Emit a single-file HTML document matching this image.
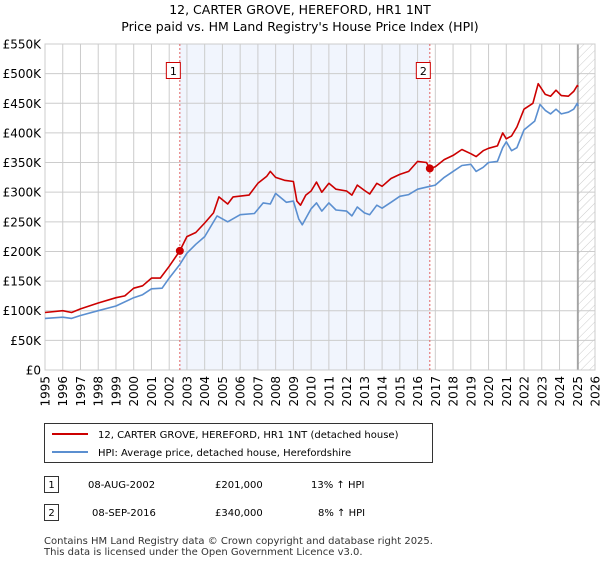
<!DOCTYPE html>
<html><head><meta charset="utf-8"><style>
body{margin:0;background:#fff;font-family:"Liberation Sans","DejaVu Sans",sans-serif;}
svg text{font-family:"DejaVu Sans","Liberation Sans",sans-serif;}
</style></head><body>
<svg id="c" width="600" height="560" xmlns="http://www.w3.org/2000/svg">
<defs><pattern id="hatch" width="6" height="6" patternUnits="userSpaceOnUse" patternTransform="rotate(45)"><line x1="0" y1="0" x2="0" y2="6" stroke="#ccc" stroke-width="1"/></pattern></defs>
<text x="300" y="14" text-anchor="middle" font-size="12.5" fill="#000">12, CARTER GROVE, HEREFORD, HR1 1NT</text>
<text x="300" y="31" text-anchor="middle" font-size="12.5" fill="#000">Price paid vs. HM Land Registry's House Price Index (HPI)</text>
<g id="plot"></g>
<g>
<rect x="44.5" y="423.5" width="388" height="39" fill="#fff" stroke="#333"/>
<line x1="52" y1="434" x2="88" y2="434" stroke="#cc0000" stroke-width="2"/>
<text x="98" y="438" font-size="10">12, CARTER GROVE, HEREFORD, HR1 1NT (detached house)</text>
<line x1="52" y1="452" x2="88" y2="452" stroke="#5b8fd0" stroke-width="2"/>
<text x="98" y="456" font-size="10">HPI: Average price, detached house, Herefordshire</text>
</g>
<g font-size="10">
<rect x="44.5" y="476.5" width="14" height="16" fill="#fff" stroke="#333"/><text x="51.5" y="488" text-anchor="middle">1</text>
<text x="88" y="488">08-AUG-2002</text><text x="215" y="488">£201,000</text><text x="311" y="488">13% ↑ HPI</text>
<rect x="44.5" y="504.5" width="14" height="16" fill="#fff" stroke="#333"/><text x="51.5" y="516" text-anchor="middle">2</text>
<text x="92" y="516">08-SEP-2016</text><text x="215" y="516">£340,000</text><text x="318" y="516">8% ↑ HPI</text>
</g>
<text x="44" y="544" font-size="10" fill="#333">Contains HM Land Registry data © Crown copyright and database right 2025.</text>
<text x="44" y="555" font-size="10" fill="#333">This data is licensed under the Open Government Licence v3.0.</text>
</svg>
<script>
const hpiYears=[1995,1996,1996.5,1997,1998,1999,2000,2000.5,2001,2001.6,2002,2002.6,2003,2003.5,2004,2004.7,2005.3,2006,2006.8,2007.3,2007.7,2008,2008.6,2009,2009.3,2009.5,2010,2010.3,2010.6,2011,2011.4,2012,2012.3,2012.6,2013,2013.3,2013.7,2014,2014.5,2015,2015.5,2016,2016.7,2017,2017.5,2018,2018.5,2019,2019.3,2019.7,2020,2020.5,2020.8,2021,2021.3,2021.6,2022,2022.6,2022.9,2023.2,2023.5,2023.8,2024.1,2024.5,2024.8,2025,2025.05];
const hpiValues=[87,89,87,92,100,108,122,127,137,138,155,178,197,212,225,260,250,262,264,282,280,298,283,285,255,245,272,282,268,282,270,268,260,275,265,262,278,273,283,293,296,305,310,312,325,335,345,347,335,342,350,352,375,385,370,375,405,420,448,438,432,440,432,435,440,450,445];
const priceYears=[1995,1996,1996.5,1997,1998,1999,1999.5,2000,2000.5,2001,2001.5,2002,2002.6,2003,2003.5,2004,2004.5,2004.8,2005.3,2005.6,2006.5,2007,2007.5,2007.7,2008,2008.5,2009,2009.2,2009.4,2009.7,2010,2010.3,2010.6,2011,2011.4,2012,2012.3,2012.6,2013,2013.3,2013.7,2014,2014.5,2015,2015.5,2016,2016.5,2016.69,2017,2017.5,2018,2018.5,2019,2019.3,2019.7,2020,2020.5,2020.8,2021,2021.3,2021.6,2022,2022.5,2022.8,2023.2,2023.5,2023.8,2024.1,2024.5,2024.8,2025,2025.05];
const priceValues=[97,100,97,103,113,122,125,138,142,155,155,175,201,225,232,248,265,292,280,292,295,315,327,335,325,320,318,285,278,295,302,317,300,315,305,302,295,312,303,297,315,310,323,330,335,352,350,340,343,355,362,372,365,360,370,374,378,400,390,395,410,440,450,483,465,462,472,463,462,470,480,478];
const saleYears=[2002.6,2016.69];
const saleValues=[201,340];
const saleLabels=["1","2"];
const yTicks=[0,50,100,150,200,250,300,350,400,450,500,550];
const yTickLabels=["£0","£50K","£100K","£150K","£200K","£250K","£300K","£350K","£400K","£450K","£500K","£550K"];
const xTicks=[1995,1996,1997,1998,1999,2000,2001,2002,2003,2004,2005,2006,2007,2008,2009,2010,2011,2012,2013,2014,2015,2016,2017,2018,2019,2020,2021,2022,2023,2024,2025,2026];

const L=45,R=595,T=44,B=370,X0=1995,X1=2026,YMAX=550,NOW=2025.04;
const sx=y=>L+(y-X0)/(X1-X0)*(R-L);
const sy=v=>B-v/YMAX*(B-T);
const NS="http://www.w3.org/2000/svg";
const g=document.getElementById('plot');
function mk(tag,attrs,parent){const e=document.createElementNS(NS,tag);for(const k in attrs)e.setAttribute(k,attrs[k]);(parent||g).appendChild(e);return e;}

const shade=mk('rect',{x:sx(saleYears[0]),y:T,width:sx(saleYears[1])-sx(saleYears[0]),height:B-T,fill:'#eef3fc',opacity:0.8});


const hatch=mk('rect',{x:sx(NOW),y:T,width:R-sx(NOW),height:B-T,fill:'url(#hatch)'});



yTicks.forEach((v,i)=>{
  const ln=mk('line',{x1:L,x2:R,y1:sy(v),y2:sy(v),stroke:'#ccc','stroke-width':1});
  
  
  const t=mk('text',{x:L-4,y:sy(v)+4.5,'text-anchor':'end','font-size':12,fill:'#000'});
  
  
  t.textContent=yTickLabels[i];
});
xTicks.forEach(yr=>{
  const ln=mk('line',{x1:sx(yr),x2:sx(yr),y1:T,y2:B,stroke:'#ccc','stroke-width':1});
  
  
  const t=mk('text',{x:0,y:0,'text-anchor':'end','font-size':12,fill:'#000',transform:`translate(${sx(yr)+4.5},${B+6}) rotate(-90)`});
  
  
  t.textContent=yr;
});
const nowLn=mk('line',{x1:sx(NOW),x2:sx(NOW),y1:T,y2:B,stroke:'#999','stroke-width':1.5});


const frame=mk('rect',{x:L,y:T,width:R-L,height:B-T,fill:'none',stroke:'#ccc'});



saleYears.forEach((yr,i)=>{
  const ln=mk('line',{x1:sx(yr),x2:sx(yr),y1:T,y2:B,stroke:'#e06060','stroke-width':1,'stroke-dasharray':'2,2'});
  
  
  const bx=mk('rect',{x:sx(yr)-13.5,y:62.5,width:14,height:16,fill:'#fff',stroke:'#cc0000'});
  
  
  const t=mk('text',{x:sx(yr)-6.5,y:75,'text-anchor':'middle','font-size':11,fill:'#000'});
  
  
  t.textContent=saleLabels[i];
});

function path(xs,vs){return xs.map((x,i)=>(i?'L':'M')+sx(x).toFixed(1)+','+sy(vs[i]).toFixed(1)).join('');}
const hp=mk('path',{d:path(hpiYears,hpiValues),fill:'none',stroke:'#5b8fd0','stroke-width':1.6,'stroke-linejoin':'round'});


const pp=mk('path',{d:path(priceYears,priceValues),fill:'none',stroke:'#cc0000','stroke-width':1.6,'stroke-linejoin':'round'});


saleYears.forEach((yr,i)=>{
  const c=mk('circle',{cx:sx(yr),cy:sy(saleValues[i]),r:4,fill:'#cc0000'});
  
  
});
</script>
</body></html>
